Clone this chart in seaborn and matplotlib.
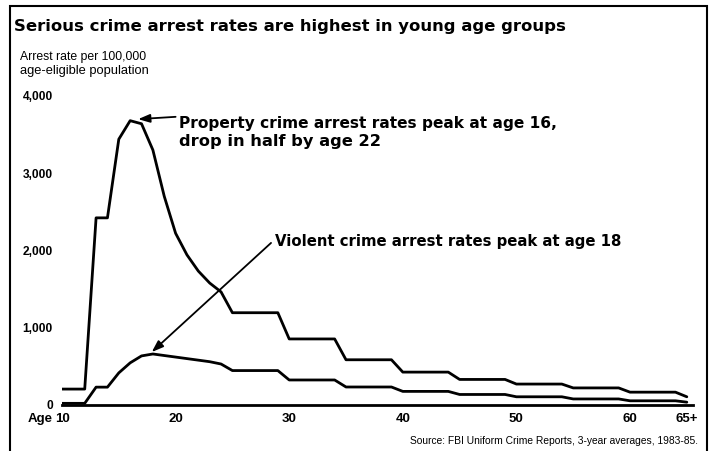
import matplotlib
matplotlib.use('Agg')
import matplotlib.pyplot as plt
import seaborn as sns
import pandas as pd
from matplotlib.patches import Rectangle

# ─── Data ─────────────────────────────────────────────────────────────────────
# age groups drawn as plateaus: 10-12, 13-14, single years 15-24, then 5-yr bands
ages = [10, 12, 13, 14, 15, 16, 17, 18, 19, 20, 21, 22, 23, 24,
        25, 29, 30, 34, 35, 39, 40, 44, 45, 49, 50, 54, 55, 59, 60, 64, 65]
property_rate = [200, 200, 2420, 2420, 3440, 3680, 3640, 3300, 2700, 2220,
                 1940, 1730, 1575, 1460, 1190, 1190, 850, 850, 580, 580,
                 420, 420, 325, 325, 265, 265, 215, 215, 160, 160, 100]
violent_rate = [15, 15, 225, 225, 410, 540, 630, 655, 635, 615,
                595, 575, 555, 525, 440, 440, 318, 318, 227, 227,
                170, 170, 130, 130, 100, 100, 72, 72, 48, 48, 30]

x_ticks = [10, 20, 30, 40, 50, 60, 65]
x_tick_labels = ['10', '20', '30', '40', '50', '60', '65+']
y_ticks = [0, 1000, 2000, 3000, 4000]
y_tick_labels = ['0', '1,000', '2,000', '3,000', '4,000']

df = pd.DataFrame({
    'age': ages + ages,
    'rate': property_rate + violent_rate,
    'crime': ['Property'] * len(ages) + ['Violent'] * len(ages),
})

sns.set_style('white')
plt.rcParams['font.family'] = ['DejaVu Sans']
plt.rcParams['text.color'] = 'black'
plt.rcParams['xtick.color'] = 'black'
plt.rcParams['ytick.color'] = 'black'

W, H = 713, 451
fig = plt.figure(figsize=(W / 100, H / 100), dpi=100)


def fx(px):
    return px / W


def fy(py):
    return 1 - py / H


# axes placed so age 10 -> x=62px, 0 -> y=404px, 4000 -> y=96px
ax = fig.add_axes([fx(62), fy(404.5), (692.5 - 62) / W, (404.5 - 96) / H])
ax.patch.set_alpha(0)

sns.lineplot(data=df, x='age', y='rate', hue='crime',
             palette={'Property': 'black', 'Violent': 'black'},
             estimator=None, sort=False, legend=False, linewidth=2.0, ax=ax)

ax.set_xlim(10, 65.5)
ax.set_ylim(0, 4000)
ax.set_xticks(x_ticks, x_tick_labels)
ax.set_yticks(y_ticks, y_tick_labels)
ax.set_xlabel('')
ax.set_ylabel('')
for s in ['top', 'right', 'left']:
    ax.spines[s].set_visible(False)
ax.spines['bottom'].set_linewidth(2)
ax.spines['bottom'].set_color('black')
ax.tick_params(axis='x', length=0, pad=6, labelsize=9.5, labelcolor='black')
ax.tick_params(axis='y', length=0, pad=6.5, labelsize=8.6, labelcolor='black')
for lbl in ax.get_xticklabels() + ax.get_yticklabels():
    lbl.set_fontfamily('Liberation Sans')
    lbl.set_fontweight('bold')

# ─── Texts ────────────────────────────────────────────────────────────────────
title = fig.text(fx(14), fy(31), 'Serious crime arrest rates are highest in young age groups',
                 ha='left', va='baseline', fontsize=11, fontweight='bold')
yl1 = fig.text(fx(20), fy(60), 'Arrest rate per 100,000', ha='left', va='baseline',
               fontsize=8, family='Liberation Sans')
yl2 = fig.text(fx(20), fy(74), 'age-eligible population', ha='left', va='baseline',
               fontsize=8, family='Liberation Sans')
fig.text(fx(53), fy(422), 'Age', ha='right', va='baseline', fontsize=9.5,
         family='Liberation Sans', fontweight='bold')
src = fig.text(fx(698), fy(444), 'Source: FBI Uniform Crime Reports, 3-year averages, 1983-85.',
               ha='right', va='baseline', fontsize=8, family='Liberation Sans')

prop1 = ax.text(20.3, 3590, 'Property crime arrest rates peak at age 16,',
                ha='left', va='baseline', fontsize=10, fontweight='bold')
prop2 = ax.text(20.3, 3350, 'drop in half by age 22',
                ha='left', va='baseline', fontsize=10, fontweight='bold')
viol = ax.text(28.75, 2055, 'Violent crime arrest rates peak at age 18',
               ha='left', va='baseline', fontsize=10, fontweight='bold')

arrow = dict(arrowstyle='-|>,head_length=0.7,head_width=0.25', lw=1.3,
             color='black', shrinkA=0, shrinkB=0, mutation_scale=10)
ax.annotate('', xy=(16.7, 3700), xytext=(20.0, 3730), arrowprops=arrow)
ax.annotate('', xy=(17.9, 680), xytext=(28.4, 2095), arrowprops=arrow)

# scale fonts so each text spans the same width as in the print
renderer = fig.canvas.get_renderer()
for t, width in [(title, 548), (yl1, 126), (yl2, 131), (src, 290),
                 (prop1, 378), (prop2, 202), (viol, 347)]:
    w = t.get_window_extent(renderer).width
    t.set_fontsize(t.get_fontsize() * width / w)

# page frame (open at the bottom, like the clipping)
fig.add_artist(Rectangle((fx(10), -0.1), fx(707) - fx(10), fy(6) + 0.1,
                         transform=fig.transFigure, fill=False, lw=1.5,
                         ec='black', clip_on=False))

fig.savefig('out.png', dpi=100)
